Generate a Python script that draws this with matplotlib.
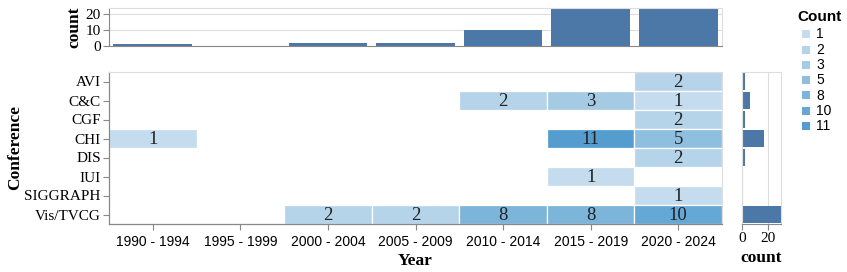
import matplotlib
matplotlib.use("Agg")
import matplotlib.pyplot as plt
from matplotlib.patches import Rectangle
import numpy as np

# ---------------- data ----------------
year_bins = ["1990 - 1994", "1995 - 1999", "2000 - 2004", "2005 - 2009",
             "2010 - 2014", "2015 - 2019", "2020 - 2024"]
conferences = ["AVI", "C&C", "CGF", "CHI", "DIS", "IUI", "SIGGRAPH", "Vis/TVCG"]

# counts per conference across the year bins (0 = no cell)
avi      = [0, 0, 0, 0, 0, 0, 2]
cc       = [0, 0, 0, 0, 2, 3, 1]
cgf      = [0, 0, 0, 0, 0, 0, 2]
chi      = [1, 0, 0, 0, 0, 11, 5]
dis      = [0, 0, 0, 0, 0, 0, 2]
iui      = [0, 0, 0, 0, 0, 1, 0]
siggraph = [0, 0, 0, 0, 0, 0, 1]
vis_tvcg = [0, 0, 2, 2, 8, 8, 10]
rows = [avi, cc, cgf, chi, dis, iui, siggraph, vis_tvcg]

legend_values = [1, 2, 3, 5, 8, 10, 11]
legend_colors = ["#c4dcee", "#b5d4ea", "#a5cbe4", "#8fbfdf",
                 "#7cb4da", "#65a8d5", "#559dcf"]

year_totals = [sum(r[i] for r in rows) for i in range(len(year_bins))]
conf_totals = [sum(r) for r in rows]

# ---------------- styling ----------------
W, H = 847, 272
SERIF = "Liberation Serif"
SANS = "Liberation Sans"
BAR = "#4c78a8"
GRID = "#dddddd"
AXIS = "#888888"

fig = plt.figure(figsize=(W / 100, H / 100), dpi=100)

def px_axes(x0, y0, x1, y1):
    return fig.add_axes([x0 / W, 1 - y1 / H, (x1 - x0) / W, (y1 - y0) / H])

def color_for(v):
    return legend_colors[legend_values.index(v)]

# ---------------- heatmap ----------------
ax = px_axes(109, 72, 722, 224)
nx, ny = len(year_bins), len(conferences)
for j, r in enumerate(rows):
    for i, v in enumerate(r):
        if v:
            ax.add_patch(Rectangle((i - 0.5, j - 0.5), 1, 1, facecolor=color_for(v),
                                   edgecolor="white", linewidth=0.9))
            ax.text(i, j + 0.04, str(v), ha="center", va="center",
                    fontsize=13.5, family=SERIF, color="#222222")
ax.set_xlim(-0.5, nx - 0.5)
ax.set_ylim(ny - 0.5, -0.5)
ax.set_xticks(range(nx))
ax.set_xticklabels(year_bins, family=SANS, fontsize=10)
ax.set_yticks(range(ny))
ax.set_yticklabels(conferences, family=SERIF, fontsize=11)
ax.tick_params(axis="both", length=4, width=0.8, color=AXIS, pad=2)
ax.tick_params(axis="x", pad=4)
for s in ["top", "right"]:
    ax.spines[s].set_color(GRID)
    ax.spines[s].set_linewidth(0.8)
for s in ["left", "bottom"]:
    ax.spines[s].set_color(AXIS)
    ax.spines[s].set_linewidth(0.9)
ax.set_xlabel("Year", family=SERIF, fontsize=12.5, fontweight="bold", labelpad=3)
ax.set_ylabel("Conference", family=SERIF, fontsize=12.5, fontweight="bold", labelpad=1)

# ---------------- top marginal bars ----------------
axt = px_axes(109, 8, 722, 46)
axt.bar(range(nx), year_totals, width=0.9, color=BAR, zorder=2)
axt.set_xlim(-0.5, nx - 0.5)
axt.set_ylim(0, 23.6)
axt.set_yticks([0, 10, 20])
axt.set_yticklabels(["0", "10", "20"], family=SERIF, fontsize=11)
axt.set_xticks([])
axt.grid(axis="y", color=GRID, linewidth=0.8, zorder=0)
axt.tick_params(axis="y", length=4, width=0.8, color=AXIS, pad=2)
for s in ["top", "right"]:
    axt.spines[s].set_color(GRID)
    axt.spines[s].set_linewidth(0.8)
axt.spines["left"].set_color(AXIS)
axt.spines["bottom"].set_color(AXIS)
axt.set_ylabel("count", family=SERIF, fontsize=12.5, fontweight="bold", labelpad=2)

# ---------------- right marginal bars ----------------
axr = px_axes(742, 72, 781, 224)
axr.barh(range(ny), conf_totals, height=0.9, color=BAR, zorder=2)
axr.set_ylim(ny - 0.5, -0.5)
axr.set_xlim(0, 30)
axr.set_xticks([0, 20])
axr.set_xticklabels(["0", "20"], family=SERIF, fontsize=11)
axr.set_yticks([])
axr.grid(axis="x", color=GRID, linewidth=0.8, zorder=0)
axr.tick_params(axis="x", length=4, width=0.8, color=AXIS, pad=2)
for s in ["top", "right", "left"]:
    axr.spines[s].set_color(GRID)
    axr.spines[s].set_linewidth(0.8)
axr.spines["bottom"].set_color(AXIS)
axr.set_xlabel("count", family=SERIF, fontsize=12.5, fontweight="bold", labelpad=3)

# ---------------- legend ----------------
fig.text(797 / W, 1 - 17 / H, "Count", family=SANS, fontsize=11,
         fontweight="bold", ha="left", va="center")
for k, (v, c) in enumerate(zip(legend_values, legend_colors)):
    yc = 34.3 + k * 15.3
    fig.patches.append(Rectangle((801.5 / W, 1 - (yc + 4) / H), 8 / W, 8 / H,
                                 transform=fig.transFigure, facecolor=c,
                                 edgecolor="none"))
    fig.text(816 / W, 1 - yc / H, str(v), family=SANS, fontsize=10,
             ha="left", va="center")

fig.savefig("out.png", dpi=100)
